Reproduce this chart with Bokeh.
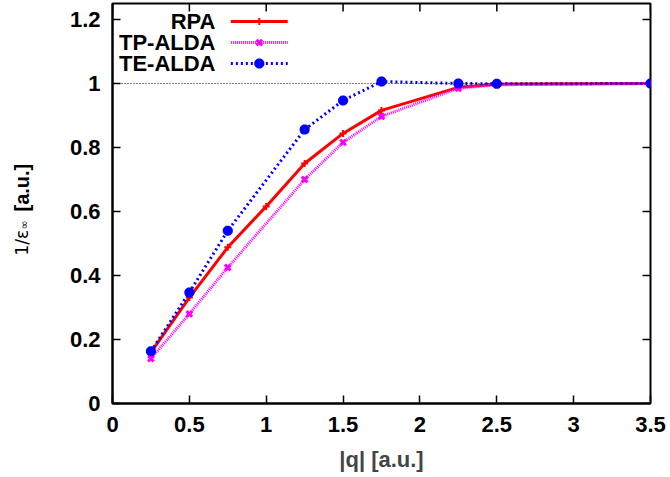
import math
from bokeh.plotting import figure
from bokeh.models import Range1d, FixedTicker, Label, Span
from bokeh.embed import file_html
from bokeh.resources import INLINE

# ---- data ----
q_rpa = [0.25, 0.5, 0.75, 1.0, 1.25, 1.5, 1.75, 2.25, 2.5, 3.5]
rpa = [0.16, 0.331, 0.488, 0.616, 0.75, 0.844, 0.916, 0.988, 0.998, 1.0]
q_alda = [0.25, 0.5, 0.75, 1.25, 1.5, 1.75, 2.25, 2.5, 3.5]
tp_alda = [0.14, 0.28, 0.425, 0.70, 0.816, 0.897, 0.985, 0.996, 1.0]
te_alda = [0.163, 0.347, 0.54, 0.856, 0.947, 1.006, 1.0, 0.999, 1.0]

x_ticks = [0, 0.5, 1, 1.5, 2, 2.5, 3, 3.5]
x_tick_labels = ["0", "0.5", "1", "1.5", "2", "2.5", "3", "3.5"]
y_ticks = [0, 0.2, 0.4, 0.6, 0.8, 1.0, 1.2]
y_tick_labels = ["0", "0.2", "0.4", "0.6", "0.8", "1", "1.2"]

series_names = ["RPA", "TP-ALDA", "TE-ALDA"]

FONT = "Liberation Sans"
FS = "22px"
X_MAX, Y_MAX = 3.5, 1.25

p = figure(width=670, height=477, output_backend="svg", toolbar_location=None,
           x_range=Range1d(0, X_MAX), y_range=Range1d(0, Y_MAX),
           min_border_left=112, min_border_right=20, min_border_top=3, min_border_bottom=74)
p.background_fill_color = "white"
p.border_fill_color = "white"
p.grid.visible = False
p.outline_line_color = "black"
p.outline_line_width = 2

def style_axis(ax):
    ax.axis_line_width = 2
    ax.axis_line_color = "black"
    ax.major_tick_in = 8
    ax.major_tick_out = 0
    ax.major_tick_line_width = 1.5
    ax.minor_tick_line_color = None
    ax.major_label_text_font = FONT
    ax.major_label_text_font_style = "bold"
    ax.major_label_text_font_size = FS
    ax.major_label_text_color = "black"

p.xaxis.ticker = FixedTicker(ticks=x_ticks)
p.yaxis.ticker = FixedTicker(ticks=y_ticks)
p.xaxis.major_label_overrides = dict(zip(x_ticks, x_tick_labels))
p.yaxis.major_label_overrides = dict(zip(y_ticks, y_tick_labels))
style_axis(p.xaxis[0])
style_axis(p.yaxis[0])
p.xaxis.major_label_standoff = 13
p.yaxis.major_label_standoff = 12
p.xaxis.axis_label = "|q| [a.u.]"
p.xaxis.axis_label_text_font = FONT
p.xaxis.axis_label_text_font_style = "bold"
p.xaxis.axis_label_text_font_size = FS
p.xaxis.axis_label_standoff = 12

# mirrored inward ticks on top and right edges
p.ray(x=x_ticks, y=[Y_MAX] * len(x_ticks), length=8, length_units="screen",
      angle=-math.pi / 2, line_color="black", line_width=1.5)
p.ray(x=[X_MAX] * len(y_ticks), y=y_ticks, length=8, length_units="screen",
      angle=math.pi, line_color="black", line_width=1.5)

# reference line at 1
p.add_layout(Span(location=1.0, dimension="width", line_color="black",
                  line_width=1, line_dash="1 2"))

# series
p.line(q_rpa, rpa, line_color="#ff0000", line_width=3)
p.scatter(q_rpa, rpa, marker="cross", size=7, line_color="#ff0000", line_width=2)

p.line(q_alda, tp_alda, line_color="#ff00ff", line_width=3, line_dash="1 1")
p.scatter(q_alda, tp_alda, marker="x", size=8, line_color="#ff00ff", line_width=3)

p.line(q_alda, te_alda, line_color="#0000ff", line_width=3, line_dash="2 3")
p.scatter(q_alda, te_alda, marker="asterisk", size=10, line_color="#0000ff", line_width=3.5)

# legend (gnuplot style: text then sample)
leg_text_x = 0.67
leg_x0, leg_x1, leg_xm = 0.77, 1.14, 0.955
leg_y = [1.194, 1.128, 1.0625]
styles = [
    dict(color="#ff0000", dash="solid", marker="cross", size=7, mw=2),
    dict(color="#ff00ff", dash="1 1", marker="x", size=8, mw=3),
    dict(color="#0000ff", dash="2 3", marker="asterisk", size=10, mw=3.5),
]
for name, yy, st in zip(series_names, leg_y, styles):
    p.add_layout(Label(x=leg_text_x, y=yy, text=name, text_align="right",
                       text_baseline="middle", text_font=FONT,
                       text_font_style="bold", text_font_size=FS, text_color="black"))
    p.line([leg_x0, leg_x1], [yy, yy], line_color=st["color"], line_width=3,
           line_dash=st["dash"])
    p.scatter([leg_xm], [yy], marker=st["marker"], size=st["size"],
              line_color=st["color"], line_width=st["mw"])

# y-axis label: "1/ε∞ [a.u.]" rotated, placed in canvas pixels in the left panel
p.add_layout(Label(x=21, y=255, x_units="canvas", y_units="canvas", text="1/ε",
                   angle=math.pi / 2, text_align="left", text_baseline="alphabetic",
                   text_font="DejaVu Sans", text_font_size="17px", text_color="black"), "left")
p.add_layout(Label(x=24, y=229, x_units="canvas", y_units="canvas", text="∞",
                   angle=math.pi / 2, text_align="left", text_baseline="alphabetic",
                   text_font="DejaVu Sans", text_font_size="11px", text_color="black"), "left")
p.add_layout(Label(x=21, y=211, x_units="canvas", y_units="canvas", text="[a.u.]",
                   angle=math.pi / 2, text_align="left", text_baseline="alphabetic",
                   text_font=FONT, text_font_style="bold", text_font_size="20px",
                   text_color="black"), "left")

open("out.html", "w").write(file_html(p, INLINE))
